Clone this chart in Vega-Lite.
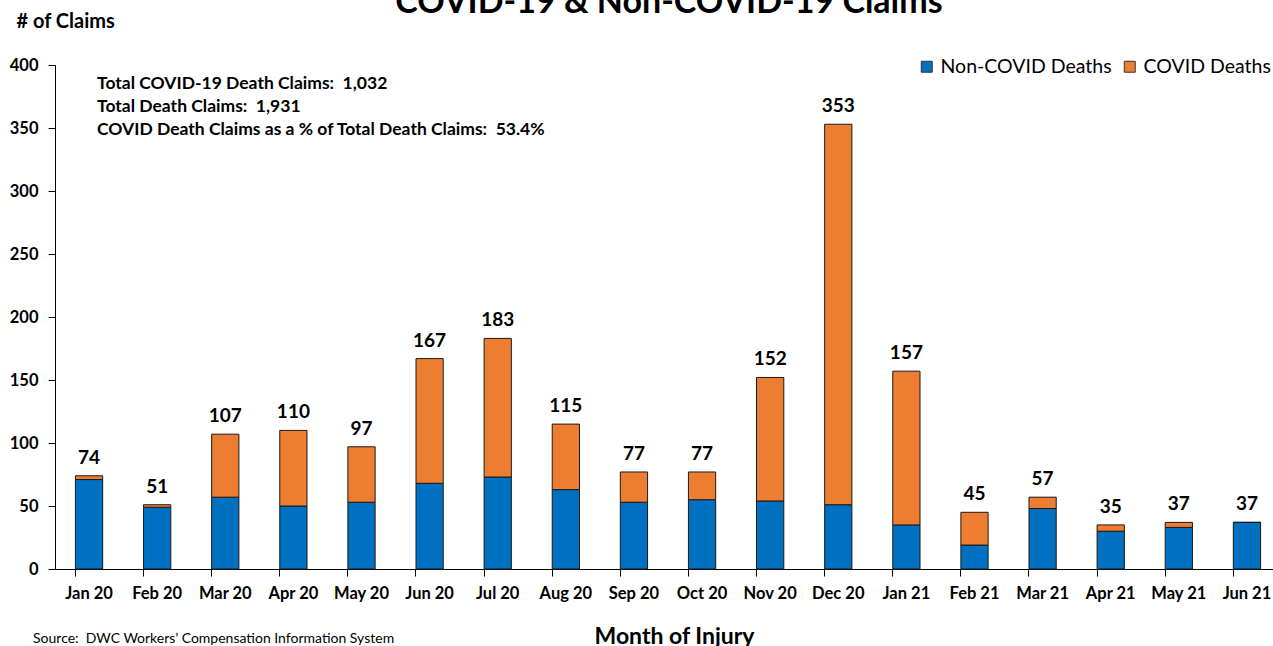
{
  "$schema": "https://vega.github.io/schema/vega-lite/v6.json",
  "autosize": "none",
  "width": 1218,
  "height": 504,
  "padding": {"left": 55, "top": 65, "right": 0, "bottom": 77},
  "background": "white",
  "config": {
    "view": {"stroke": null},
    "font": "Lato",
    "axis": {"labelColor": "black", "titleColor": "black", "domainColor": "black", "tickColor": "black", "grid": false, "labelFont": "Lato", "titleFont": "Lato"}
  },
  "title": {"text": "COVID-19 & Non-COVID-19 Claims", "fontSize": 34, "font": "Lato", "fontWeight": "bold", "color": "black", "anchor": "middle", "offset": -9, "dx": 5},
  "datasets": {
    "claims": [
      {"month": "Jan 20", "series": "Non-COVID Deaths", "value": 71}, {"month": "Jan 20", "series": "COVID Deaths", "value": 3},
      {"month": "Feb 20", "series": "Non-COVID Deaths", "value": 49}, {"month": "Feb 20", "series": "COVID Deaths", "value": 2},
      {"month": "Mar 20", "series": "Non-COVID Deaths", "value": 57}, {"month": "Mar 20", "series": "COVID Deaths", "value": 50},
      {"month": "Apr 20", "series": "Non-COVID Deaths", "value": 50}, {"month": "Apr 20", "series": "COVID Deaths", "value": 60},
      {"month": "May 20", "series": "Non-COVID Deaths", "value": 53}, {"month": "May 20", "series": "COVID Deaths", "value": 44},
      {"month": "Jun 20", "series": "Non-COVID Deaths", "value": 68}, {"month": "Jun 20", "series": "COVID Deaths", "value": 99},
      {"month": "Jul 20", "series": "Non-COVID Deaths", "value": 73}, {"month": "Jul 20", "series": "COVID Deaths", "value": 110},
      {"month": "Aug 20", "series": "Non-COVID Deaths", "value": 63}, {"month": "Aug 20", "series": "COVID Deaths", "value": 52},
      {"month": "Sep 20", "series": "Non-COVID Deaths", "value": 53}, {"month": "Sep 20", "series": "COVID Deaths", "value": 24},
      {"month": "Oct 20", "series": "Non-COVID Deaths", "value": 55}, {"month": "Oct 20", "series": "COVID Deaths", "value": 22},
      {"month": "Nov 20", "series": "Non-COVID Deaths", "value": 54}, {"month": "Nov 20", "series": "COVID Deaths", "value": 98},
      {"month": "Dec 20", "series": "Non-COVID Deaths", "value": 51}, {"month": "Dec 20", "series": "COVID Deaths", "value": 302},
      {"month": "Jan 21", "series": "Non-COVID Deaths", "value": 35}, {"month": "Jan 21", "series": "COVID Deaths", "value": 122},
      {"month": "Feb 21", "series": "Non-COVID Deaths", "value": 19}, {"month": "Feb 21", "series": "COVID Deaths", "value": 26},
      {"month": "Mar 21", "series": "Non-COVID Deaths", "value": 48}, {"month": "Mar 21", "series": "COVID Deaths", "value": 9},
      {"month": "Apr 21", "series": "Non-COVID Deaths", "value": 30}, {"month": "Apr 21", "series": "COVID Deaths", "value": 5},
      {"month": "May 21", "series": "Non-COVID Deaths", "value": 33}, {"month": "May 21", "series": "COVID Deaths", "value": 4},
      {"month": "Jun 21", "series": "Non-COVID Deaths", "value": 37}, {"month": "Jun 21", "series": "COVID Deaths", "value": 0}
    ],
    "totals": [
      {"month": "Jan 20", "total": 74}, {"month": "Feb 20", "total": 51}, {"month": "Mar 20", "total": 107},
      {"month": "Apr 20", "total": 110}, {"month": "May 20", "total": 97}, {"month": "Jun 20", "total": 167},
      {"month": "Jul 20", "total": 183}, {"month": "Aug 20", "total": 115}, {"month": "Sep 20", "total": 77},
      {"month": "Oct 20", "total": 77}, {"month": "Nov 20", "total": 152}, {"month": "Dec 20", "total": 353},
      {"month": "Jan 21", "total": 157}, {"month": "Feb 21", "total": 45}, {"month": "Mar 21", "total": 57},
      {"month": "Apr 21", "total": 35}, {"month": "May 21", "total": 37}, {"month": "Jun 21", "total": 37}
    ],
    "notes": [
      {"text": "Total COVID-19 Death Claims:\u00a0 1,032\nTotal Death Claims:\u00a0 1,931\nCOVID Death Claims as a % of Total Death Claims:\u00a0 53.4%"}
    ],
    "source": [
      {"text": "Source:\u00a0 DWC Workers\u2019 Compensation Information System"}
    ]
  },
  "encoding": {
    "x": {
      "field": "month", "type": "nominal", "sort": null,
      "scale": {"paddingInner": 0.6, "paddingOuter": 0.3, "range": [0, 1226]},
      "axis": {
        "title": "Month of Injury", "titleFontSize": 23, "titleFontWeight": "bold", "titleX": 619, "titleY": 67, "titleBaseline": "middle", "titleAlign": "center",
        "labelAngle": 0, "labelFontSize": 16.5, "labelFontWeight": "bold", "labelPadding": 9, "tickSize": 7, "bandPosition": 0, "domainWidth": 1, "tickWidth": 1
      }
    }
  },
  "layer": [
    {
      "data": {"name": "claims"},
      "mark": {"type": "bar", "stroke": "#1a1a1a", "strokeWidth": 1},
      "encoding": {
        "y": {
          "field": "value", "type": "quantitative", "stack": "zero",
          "scale": {"domain": [0, 400]},
          "axis": {
            "values": [0, 50, 100, 150, 200, 250, 300, 350, 400],
            "title": "# of Claims", "titleAngle": 0, "titleX": -39, "titleY": -44, "titleAlign": "left", "titleBaseline": "middle", "titleFontSize": 20, "titleFontWeight": "bold",
            "labelFontSize": 16.5, "labelFontWeight": "bold", "labelPadding": 10, "tickSize": 7, "domainWidth": 1, "tickWidth": 1
          }
        },
        "color": {
          "field": "series", "type": "nominal",
          "scale": {"domain": ["Non-COVID Deaths", "COVID Deaths"], "range": ["#0070C0", "#ED7D31"]},
          "legend": {
            "title": null, "orient": "none", "legendX": 862, "legendY": -8, "direction": "horizontal", "gridAlign": "none",
            "symbolType": "square", "symbolSize": 120, "symbolStrokeColor": "#333333", "symbolStrokeWidth": 1,
            "labelFontSize": 19.5, "labelFont": "Lato", "labelColor": "black", "labelLimit": 0, "columnPadding": 8, "symbolOffset": 0, "labelOffset": 4
          }
        },
        "order": {"field": "series", "sort": "descending"}
      }
    },
    {
      "data": {"name": "totals"},
      "mark": {"type": "text", "fontSize": 19, "fontWeight": "bold", "color": "black", "baseline": "alphabetic", "dy": -12},
      "encoding": {
        "y": {"field": "total", "type": "quantitative"},
        "text": {"field": "total", "type": "quantitative"}
      }
    },
    {
      "data": {"name": "notes"},
      "mark": {"type": "text", "fontSize": 17.5, "fontWeight": "bold", "color": "black", "align": "left", "baseline": "middle", "lineBreak": "\n", "lineHeight": 23, "dx": 8},
      "encoding": {
        "x": {"datum": "Jan 20"},
        "y": {"datum": 385},
        "text": {"field": "text", "type": "nominal"}
      }
    },
    {
      "data": {"name": "source"},
      "mark": {"type": "text", "fontSize": 14, "color": "black", "align": "left", "baseline": "middle", "dx": -56},
      "encoding": {
        "x": {"datum": "Jan 20"},
        "y": {"datum": -55.5},
        "text": {"field": "text", "type": "nominal"}
      }
    }
  ]
}
